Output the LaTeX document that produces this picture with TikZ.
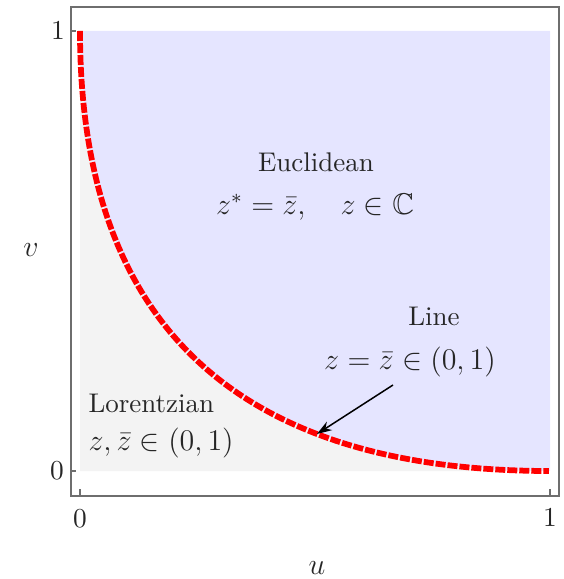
\documentclass[tikz,border=0pt]{standalone}
\usepackage{amssymb}
\usetikzlibrary{arrows.meta}
\definecolor{eucblue}{RGB}{229,229,255}
\definecolor{lorgray}{RGB}{243,243,243}
\definecolor{framegray}{RGB}{110,110,110}
\tikzset{
  lbl/.style={inner sep=0pt, text=black!85, font=\fontsize{10.8}{13}\selectfont},
  eqlbl/.style={lbl, font=\fontsize{12}{14}\selectfont},
  axlbl/.style={lbl, font=\fontsize{13}{15}\selectfont},
  zline/.style={red, line width=2.3pt, dash pattern=on 4pt off 0.8pt},
}
\begin{document}
\begin{tikzpicture}[x=0.4pt, y=-0.4pt, >={Stealth[length=6pt,width=4pt]}]
  \useasboundingbox (0,0) rectangle (563,579);
  % region u, v in [0,1]
  \begin{scope}[shift={(80,471)}, x=188pt, y=176pt]
    \fill[eucblue] (0,1) -- (1,1) -- (1,0) -- plot[domain=1:0, samples=120] ({\x*\x},{(1-\x)*(1-\x)}) -- cycle;
    \fill[lorgray] (0,0) -- plot[domain=0:1, samples=120] ({\x*\x},{(1-\x)*(1-\x)}) -- cycle;
    \draw[zline] plot[domain=0:1, samples=120] ({\x*\x},{(1-\x)*(1-\x)});
    \coordinate (P) at ({0.71*0.71},{0.29*0.29});
  \end{scope}
  % frame and ticks
  \draw[framegray, line width=0.5pt] (71,7) rectangle (559,496);
  \draw[framegray, line width=0.5pt] (71,31) -- ++(5,0) (71,471) -- ++(5,0)
    (80,496) -- ++(0,-7) (550,496) -- ++(0,-7);
  \node[lbl] (vone) at (58,31) {$1$};
  \node[lbl] (vzero) at (57,471) {$0$};
  \node[lbl] (uzero) at (80,519) {$0$};
  \node[lbl] (uone) at (550,518) {$1$};
  \node[axlbl] (vlabel) at (31,250) {$v$};
  \node[axlbl] (ulabel) at (317,568) {$u$};
  % region labels
  \node[lbl] (euclid) at (316,162) {Euclidean};
  \node[eqlbl] (euclideq) at (315,207) {$z^* = \bar{z}, \quad z \in \mathbb{C}$};
  \node[lbl] (line) at (434,316) {Line};
  \node[eqlbl] (lineeq) at (410,362) {$z = \bar{z} \in (0,1)$};
  \node[lbl, anchor=west] (lorentz) at (88,403) {Lorentzian};
  \node[eqlbl, anchor=west] (lorentzeq) at (88,443) {$z, \bar{z} \in (0,1)$};
  \coordinate (A) at (393,385);
  \draw[->, line width=0.6pt] (A) -- (P);
\end{tikzpicture}
\end{document}
